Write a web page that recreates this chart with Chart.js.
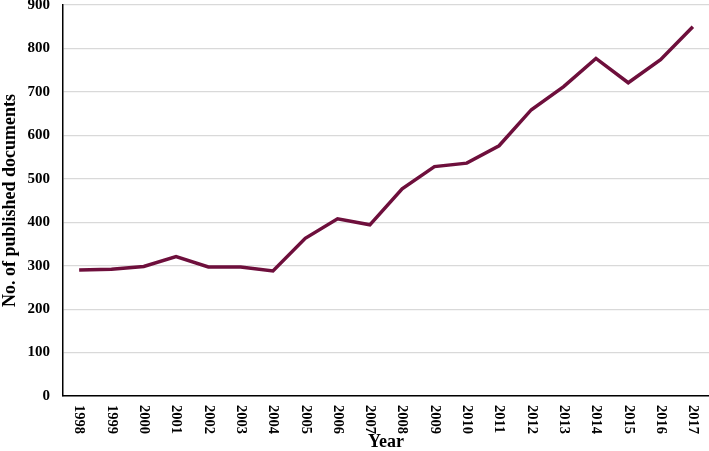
<!DOCTYPE html>
<html><head><meta charset="utf-8">
<script src="https://cdn.jsdelivr.net/npm/chart.js@4/dist/chart.umd.min.js"></script>
<style>html,body{margin:0;padding:0;background:#fff}#w{width:709px;height:451px}</style>
</head><body><div id="w"><canvas id="c"></canvas></div>
<script>
const years = ["1998","1999","2000","2001","2002","2003","2004","2005","2006","2007","2008","2009","2010","2011","2012","2013","2014","2015","2016","2017"];
const documents = [290,292,298,321,297,297,288,363,408,394,477,528,536,576,659,712,777,721,774,850];
const yTicks = [0,100,200,300,400,500,600,700,800,900];

const FONT = "'Liberation Serif','Times New Roman',serif";
const xLabelPlugin = {
  id: 'xlabels',
  afterDraw(chart) {
    const s = chart.scales.x, ctx = chart.ctx;
    ctx.save();
    ctx.font = "bold 14.5px " + FONT;
    ctx.fillStyle = '#000';
    ctx.textAlign = 'left';
    ctx.textBaseline = 'middle';
    years.forEach((lab, i) => {
      const x = s.getPixelForTick(i);
      ctx.save();
      ctx.translate(x, s.top + 9);
      ctx.rotate(Math.PI / 2);
      ctx.fillText(lab, 0, 0);
      ctx.restore();
    });
    ctx.restore();
  }
};

new Chart(document.getElementById('c'), {
  type: 'line',
  data: { labels: years, datasets: [{ data: documents, borderColor: '#6e0f3c', borderWidth: 3.5, pointRadius: 0, tension: 0, fill: false }] },
  options: {
    responsive: true, maintainAspectRatio: false, animation: false,
    layout: { padding: { top: 5, right: 0, left: 0, bottom: 0 } },
    plugins: { legend: { display: false }, tooltip: { enabled: false } },
    scales: {
      x: {
        offset: true,
        grid: { display: false, drawTicks: false },
        border: { display: true, color: '#000', width: 1.5 },
        ticks: { display: false },
        title: { display: true, text: 'Year', color: '#000', font: { family: FONT, size: 18, weight: 'bold', lineHeight: 1 }, padding: { top: 0, bottom: 0 } },
        afterFit(s) { s.height = 55; s.paddingLeft = 0; s.paddingRight = 0; }
      },
      y: {
        min: 0, max: 900,
        afterBuildTicks(s) { s.ticks = yTicks.map(v => ({ value: v })); },
        grid: { color: '#d9d9d9', lineWidth: 1.2, drawTicks: false },
        border: { display: true, color: '#000', width: 1.5 },
        ticks: { color: '#000', padding: 13, font: { family: FONT, size: 15, weight: 'bold' } },
        title: { display: true, text: 'No. of published documents', color: '#000', font: { family: FONT, size: 18, weight: 'bold', lineHeight: 1.1 }, padding: { top: 0, bottom: 0 } },
        afterFit(s) { s.width = 63; s.paddingTop = 0; s.paddingBottom = 0; }
      }
    }
  },
  plugins: [xLabelPlugin]
});
</script>
</body></html>
